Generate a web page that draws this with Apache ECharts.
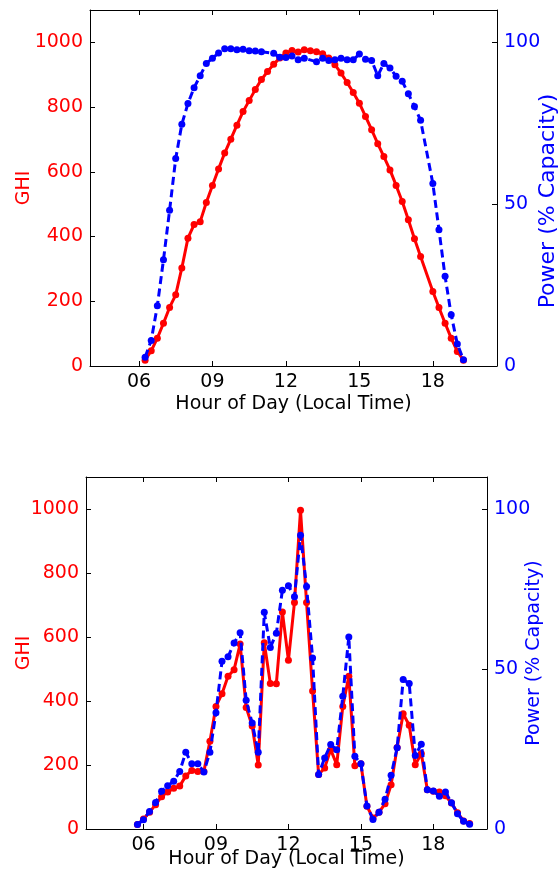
<!DOCTYPE html>
<html>
<head>
<meta charset="utf-8">
<script src="https://cdn.jsdelivr.net/npm/echarts@6/dist/echarts.min.js"></script>
<style>
html,body{margin:0;padding:0;background:#fff;}
#chart{width:559px;height:877px;}
</style>
</head>
<body>
<div id="chart"></div>
<script>
// ---- Data ----
const hoursTop = [6.25,6.5,6.75,7,7.25,7.5,7.75,8,8.25,8.5,8.75,9,9.25,9.5,9.75,10,10.25,10.5,10.75,11,11.25,11.5,11.75,12,12.25,12.5,12.75,13,13.25,13.5,13.75,14,14.25,14.5,14.75,15,15.25,15.5,15.75,16,16.25,16.5,16.75,17,17.25,17.5,17.75,18,18.25,18.5,18.75,19,19.25];
const ghiTop = [18,47,86,132,181,220,303,395,437,446,505,558,609,658,701,744,786,820,854,885,910,932,952,967,975,970,977,974,971,965,952,931,905,876,845,812,771,730,687,647,606,558,508,452,393,338,null,230,181,132,86,45,18];
const powerTop = [2.7,7.9,18.6,32.8,48.1,64.1,74.7,81.1,86.0,89.7,93.5,95.1,96.7,98.0,98.0,97.7,97.9,97.4,97.3,97.1,null,96.6,95.4,95.3,95.8,94.6,95.1,null,94.0,95.1,94.4,94.6,95.1,94.6,94.6,96.4,94.8,94.4,89.7,93.5,92.1,89.5,88.0,84.1,80.2,75.9,null,56.4,42.1,27.7,15.8,6.8,1.9];

const hoursBot = [5.75,6,6.25,6.5,6.75,7,7.25,7.5,7.75,8,8.25,8.5,8.75,9,9.25,9.5,9.75,10,10.25,10.5,10.75,11,11.25,11.5,11.75,12,12.25,12.5,12.75,13,13.25,13.5,13.75,14,14.25,14.5,14.75,15,15.25,15.5,15.75,16,16.25,16.5,16.75,17,17.25,17.5,17.75,18,18.25,18.5,18.75,19,19.25,19.5];
const ghiBot = [14,31,52,76,101,116,127,134,166,183,180,180,274,383,423,477,498,578,380,322,200,582,455,454,678,527,708,996,708,431,170,191,248,201,383,477,198,204,71,34,52,79,138,255,360,324,201,236,123,118,116,104,81,51,25,17];
const powerBot = [1.4,2.9,5.5,8.3,11.8,13.5,14.9,18.0,24.0,20.4,20.4,17.8,24.0,36.3,52.4,53.8,58.1,61.3,40.2,33.1,24.0,67.7,56.7,61.2,74.6,76.0,72.6,91.8,75.8,53.4,17.0,22.2,26.4,24.8,41.5,60.0,22.7,20.4,7.2,3.0,5.2,9.3,16.8,25.4,46.7,45.5,23.0,26.5,12.3,11.9,10.2,11.6,8.2,4.8,2.4,1.5];

const hourTicks = [6, 9, 12, 15, 18];
const ghiTicks = [0, 200, 400, 600, 800, 1000];
const powerTicks = [0, 50, 100];
const xLabel = 'Hour of Day (Local Time)';
const ghiLabel = 'GHI';
const powerLabel = 'Power (% Capacity)';

// ---- Chart ----
const FONT = 'DejaVu Sans';
const FS = 19;
const RED = '#ff0000';
const BLUE = '#0000ff';
const pair = (xs, ys) => xs.map((x, i) => [x, ys[i]]);

function xAxes(gridIndex, min, max, nameGap) {
  return [
    {
      type: 'value', gridIndex, min, max, position: 'bottom',
      name: xLabel, nameLocation: 'middle', nameGap, nameMoveOverlap: false,
      nameTextStyle: { fontFamily: FONT, fontSize: FS, color: '#000' },
      axisLine: { show: true, onZero: false, lineStyle: { color: '#000', width: 1 } },
      axisTick: { show: true, inside: true, length: 5, customValues: hourTicks, lineStyle: { color: '#000' } },
      axisLabel: { show: true, margin: 7, customValues: hourTicks, fontFamily: FONT, fontSize: FS, color: '#000',
        formatter: v => (v < 10 ? '0' : '') + v },
      splitLine: { show: false }
    },
    {
      type: 'value', gridIndex, min, max, position: 'top',
      axisLine: { show: true, onZero: false, lineStyle: { color: '#000', width: 1 } },
      axisTick: { show: true, inside: true, length: 5, customValues: hourTicks, lineStyle: { color: '#000' } },
      axisLabel: { show: false },
      splitLine: { show: false }
    }
  ];
}
function yAxes(gridIndex, ghiNameGap, powerNameGap, powerFS, powerPad) {
  return [
    {
      type: 'value', gridIndex, min: 0, max: 1100, position: 'left',
      name: ghiLabel, nameLocation: 'middle', nameGap: ghiNameGap, nameRotate: 90, nameMoveOverlap: false,
      nameTextStyle: { fontFamily: FONT, fontSize: FS, color: RED },
      axisLine: { show: true, onZero: false, lineStyle: { color: '#000', width: 1 } },
      axisTick: { show: true, inside: true, length: 5, customValues: ghiTicks, lineStyle: { color: '#000' } },
      axisLabel: { show: true, margin: 7, customValues: ghiTicks, fontFamily: FONT, fontSize: FS, color: RED,
        formatter: v => String(v) },
      splitLine: { show: false }
    },
    {
      type: 'value', gridIndex, min: 0, max: 110, position: 'right',
      name: powerLabel, nameLocation: 'middle', nameGap: powerNameGap, nameRotate: 90, nameMoveOverlap: false,
      nameTextStyle: { fontFamily: FONT, fontSize: powerFS, color: BLUE, padding: powerPad },
      axisLine: { show: true, onZero: false, lineStyle: { color: '#000', width: 1 } },
      axisTick: { show: true, inside: true, length: 5, customValues: powerTicks, lineStyle: { color: '#000' } },
      axisLabel: { show: true, margin: 7, customValues: powerTicks, fontFamily: FONT, fontSize: FS, color: BLUE,
        formatter: v => String(v) },
      splitLine: { show: false }
    }
  ];
}
function seriesFor(xi, yi, hours, ghi, power) {
  return [
    {
      type: 'line', xAxisIndex: xi, yAxisIndex: yi, data: pair(hours, ghi), connectNulls: true,
      symbol: 'circle', symbolSize: 7, showSymbol: true, animation: false, z: 2,
      lineStyle: { color: RED, width: 3 }, itemStyle: { color: RED }
    },
    {
      type: 'line', xAxisIndex: xi, yAxisIndex: yi + 1, data: pair(hours, power), connectNulls: true,
      symbol: 'circle', symbolSize: 7, showSymbol: true, animation: false, z: 3,
      lineStyle: { color: BLUE, width: 3, type: [8, 4.5] }, itemStyle: { color: BLUE }
    }
  ];
}

const chart = echarts.init(document.getElementById('chart'), null, { renderer: 'canvas' });
chart.setOption({
  animation: false,
  backgroundColor: '#fff',
  grid: [
    { left: 90, top: 10, width: 407, height: 356, containLabel: false, outerBoundsMode: 'none' },
    { left: 86, top: 477, width: 401, height: 352, containLabel: false, outerBoundsMode: 'none' }
  ],
  xAxis: [...xAxes(0, 4.0, 20.62, 29), ...xAxes(1, 3.62, 20.22, 21)],
  yAxis: [...yAxes(0, 56, 40, 22, [0, 26, 0, 0]), ...yAxes(1, 52, 38, FS, 0)],
  series: [
    ...seriesFor(0, 0, hoursTop, ghiTop, powerTop),
    ...seriesFor(2, 2, hoursBot, ghiBot, powerBot)
  ]
});
</script>
</body>
</html>
